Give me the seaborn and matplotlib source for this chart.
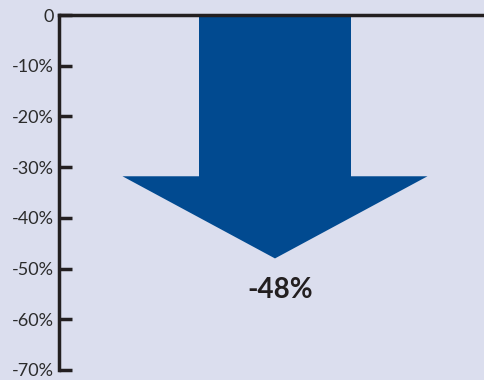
import matplotlib
matplotlib.use("Agg")
import matplotlib.pyplot as plt
import seaborn as sns
import pandas as pd
from matplotlib.patches import Polygon

# Data
categories = ["Change"]
values = [-48]
head_start = [-32]
tick_values = [0, -10, -20, -30, -40, -50, -60, -70]
tick_labels = ["0", "-10%", "-20%", "-30%", "-40%", "-50%", "-60%", "-70%"]
label_text = ["-48%"]

bg = "#dbdeee"
arrow_color = "#014a90"
ink = "#231f20"

sns.set_theme(style="white")
plt.rcParams["font.family"] = ["Lato", "DejaVu Sans"]

fig = plt.figure(figsize=(4.85, 3.8), dpi=100, facecolor=bg)
ax = fig.add_axes([59 / 485, 10 / 380, 1 - 59 / 485, 355 / 380])
ax.set_facecolor(bg)

df = pd.DataFrame({"cat": categories, "val": head_start})
shaft_w = 0.357
sns.barplot(data=df, x="cat", y="val", color=arrow_color, saturation=1,
            width=shaft_w, ax=ax, linewidth=0)

# Arrow head from the end of the shaft down to the value
head_half = 0.358
head = Polygon([(-head_half, head_start[0] + 0.2), (head_half, head_start[0] + 0.2),
                (0, values[0])], closed=True, facecolor=arrow_color,
               edgecolor="none")
ax.add_patch(head)

ax.text(0.013, values[0] - 6.3, label_text[0], ha="center", va="center",
        fontsize=20, fontweight="bold", color=ink)

ax.set_xlim(-0.507, 0.493)
ax.set_ylim(-70, 0)
ax.set_yticks(tick_values)
ax.set_yticklabels(tick_labels, fontsize=13, color="#2b2b2b")
ax.set_xticks([])
ax.set_xlabel("")
ax.set_ylabel("")

for side in ["right", "bottom"]:
    ax.spines[side].set_visible(False)
for side in ["left", "top"]:
    ax.spines[side].set_color(ink)
    ax.spines[side].set_linewidth(2.5)
ax.tick_params(axis="y", direction="in", length=9, width=2.5, color=ink,
               pad=4, left=True)

fig.savefig("out.png", dpi=100, facecolor=bg)
